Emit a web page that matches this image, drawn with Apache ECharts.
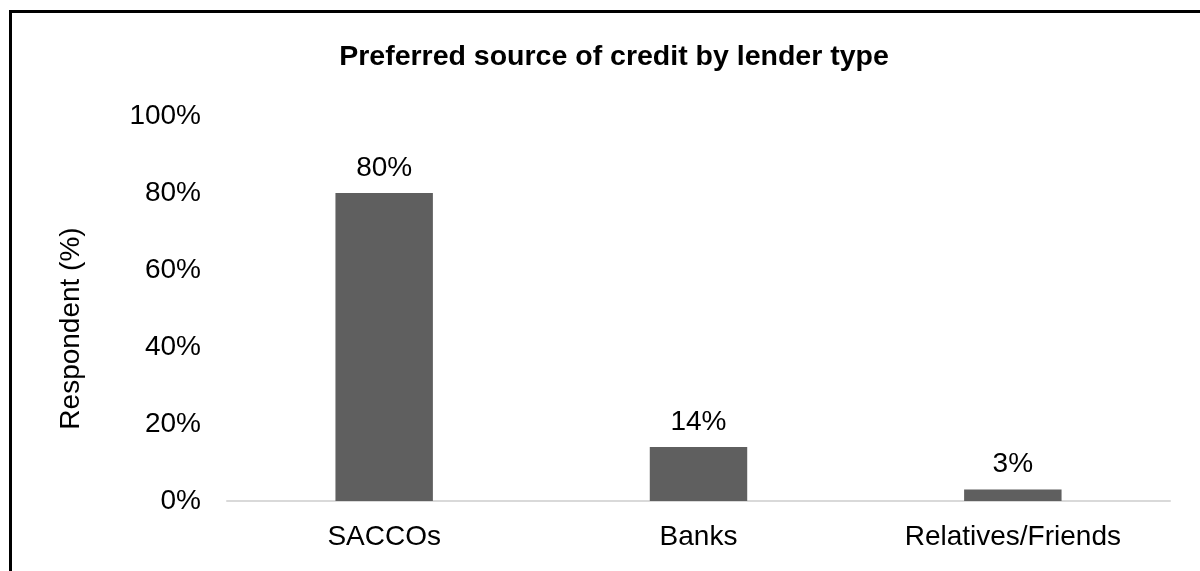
<!DOCTYPE html>
<html>
<head>
<meta charset="utf-8">
<script src="https://cdn.jsdelivr.net/npm/echarts@6/dist/echarts.min.js"></script>
<style>
  html, body { margin: 0; padding: 0; background: #fff; overflow: hidden; }
  #frame {
    position: absolute; left: 9px; top: 10px;
    width: 1220px; height: 600px;
    border-left: 3px solid #000; border-top: 3px solid #000;
  }
  #main { position: absolute; left: 0; top: 0; width: 1200px; height: 571px; }
</style>
</head>
<body>
<div id="frame"></div>
<div id="main"></div>
<script>
// lender types and share of respondents (%)
var categories = ['SACCOs', 'Banks', 'Relatives/Friends']
var shares = [80, 14, 3]
var yTicks = [0, 20, 40, 60, 80, 100]

var myChart = echarts.init(document.getElementById('main'))

var options = {
  animation: false,
  textStyle: { fontFamily: 'Liberation Sans, Arial, sans-serif' },
  title: {
    text: 'Preferred source of credit by lender type',
    left: 609,
    top: 38,
    textAlign: 'center',
    textStyle: { fontSize: 28.5, fontWeight: 'bold', color: '#000' }
  },
  grid: {
    left: 227,
    right: 30,
    top: 116,
    bottom: 70,
    containLabel: false
  },
  xAxis: {
    type: 'category',
    data: categories,
    axisLine: { lineStyle: { color: '#d9d9d9', width: 2 } },
    axisTick: { show: false },
    axisLabel: { fontSize: 28, color: '#000', margin: 22 }
  },
  yAxis: {
    type: 'value',
    min: yTicks[0],
    max: yTicks[yTicks.length - 1],
    interval: 20,
    name: 'Respondent (%)',
    nameLocation: 'middle',
    nameGap: 142,
    nameTextStyle: { fontSize: 28, color: '#000', padding: [0, 40, 0, 0] },
    splitLine: { show: false },
    axisLine: { show: false },
    axisTick: { show: false },
    axisLabel: { fontSize: 28, color: '#000', margin: 26, formatter: '{value}%' }
  },
  series: [
    {
      type: 'bar',
      data: shares,
      barWidth: '31%',
      itemStyle: { color: '#5f5f5f' },
      label: {
        show: true,
        position: 'top',
        distance: 11,
        fontSize: 28,
        color: '#000',
        formatter: '{c}%'
      }
    }
  ]
}

myChart.setOption(options)
</script>
</body>
</html>
